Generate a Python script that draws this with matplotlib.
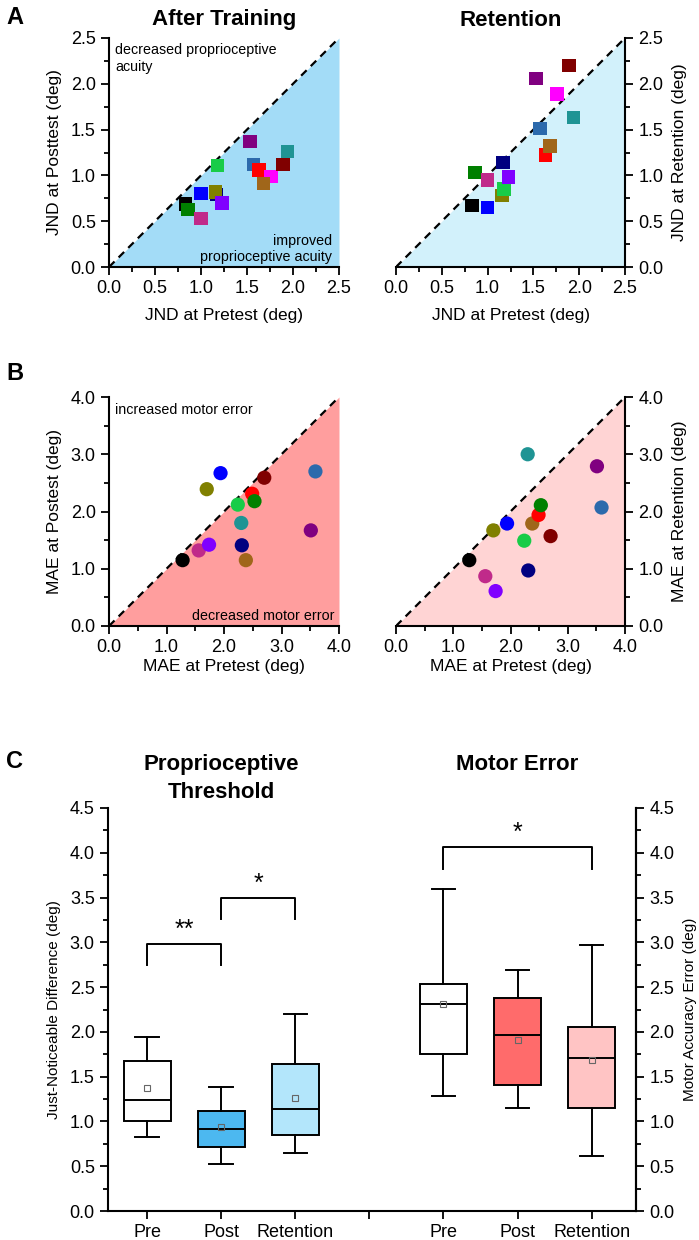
import matplotlib
matplotlib.use("Agg")
import matplotlib.pyplot as plt
from matplotlib.ticker import MultipleLocator
import numpy as np

plt.rcParams["font.family"] = ["Liberation Sans", "DejaVu Sans"]

# ---- panel A: JND (one square per subject) ----
jnd_colors = ["#000000", "#007f00", "#0000ff", "#000080", "#808000", "#c02a8a",
              "#18cc48", "#8000ff", "#800080", "#2c6aac", "#ff0000", "#ff00ff",
              "#a0661a", "#800000", "#1f9494"]
jnd_pre = [0.83, 0.86, 1.00, 1.17, 1.16, 1.00, 1.18, 1.23, 1.53, 1.57, 1.63, 1.76, 1.68, 1.89, 1.94]
jnd_post = [0.69, 0.63, 0.80, 0.79, 0.82, 0.53, 1.11, 0.70, 1.37, 1.12, 1.06, 0.99, 0.91, 1.12, 1.26]
jnd_ret = [0.67, 1.03, 0.65, 1.14, 0.78, 0.95, 0.85, 0.98, 2.06, 1.51, 1.22, 1.89, 1.32, 2.20, 1.63]

# ---- panel B: MAE (one circle per subject) ----
mae_colors = ["#000000", "#c02a8a", "#8000ff", "#808000", "#0000ff", "#18cc48",
              "#1f9494", "#000080", "#a0661a", "#ff0000", "#008000", "#800000",
              "#800080", "#2c6aac"]
mae_pre = [1.28, 1.56, 1.74, 1.70, 1.94, 2.24, 2.30, 2.31, 2.38, 2.49, 2.53, 2.70, 3.51, 3.59]
mae_post = [1.15, 1.32, 1.42, 2.39, 2.67, 2.12, 1.80, 1.41, 1.15, 2.31, 2.18, 2.59, 1.67, 2.70]
mae_ret = [1.15, 0.87, 0.61, 1.67, 1.79, 1.49, 3.00, 0.97, 1.79, 1.94, 2.11, 1.57, 2.79, 2.07]

# ---- panel C: box statistics ----
box_labels = ["Pre", "Post", "Retention", "", "Pre", "Post", "Retention"]
box_pos = [1, 2, 3, 5, 6, 7]
whislo = [0.83, 0.53, 0.65, 1.28, 1.15, 0.61]
q1 = [1.00, 0.71, 0.85, 1.75, 1.41, 1.15]
med = [1.24, 0.92, 1.14, 2.31, 1.96, 1.71]
q3 = [1.68, 1.12, 1.64, 2.53, 2.38, 2.06]
whishi = [1.94, 1.39, 2.20, 3.59, 2.69, 2.97]
means = [1.37, 0.94, 1.26, 2.31, 1.91, 1.69]
box_colors = ["white", "#4cb8f0", "#b3e6fb", "white", "#ff6b6b", "#ffc4c4"]

W, H = 699, 1240
TICK = 13
LAB = 12.5
NOTE = 10.3
fig = plt.figure(figsize=(W / 100, H / 100), dpi=100)


def px_axes(left, top, right, bottom):
    return fig.add_axes([left / W, 1 - bottom / H, (right - left) / W, (bottom - top) / H])


def style(ax, side):
    for s in ["top", "left", "right"]:
        ax.spines[s].set_visible(False)
    ax.spines[side].set_visible(True)
    for s in ["bottom", side]:
        ax.spines[s].set_linewidth(1.5)
    ax.tick_params(which="both", direction="out", width=1.3, labelsize=TICK)
    ax.tick_params(which="major", length=6)
    ax.tick_params(which="minor", length=3.5)
    if side == "right":
        ax.yaxis.tick_right()
        ax.yaxis.set_label_position("right")


def scatter_panel(ax, x, y, colors, lim, fill, marker, size, side, maj, fmt):
    ax.fill_between([0, lim], [0, 0], [0, lim], color=fill, lw=0, zorder=0)
    ax.plot([0, lim], [0, lim], ls=(0, (3.5, 2.6)), color="black", lw=1.6, zorder=1)
    ax.scatter(x, y, c=colors, marker=marker, s=size, zorder=3, linewidths=0)
    ax.set_xlim(0, lim)
    ax.set_ylim(0, lim)
    ax.xaxis.set_major_locator(MultipleLocator(maj))
    ax.xaxis.set_minor_locator(MultipleLocator(maj / 2))
    ax.yaxis.set_major_locator(MultipleLocator(maj))
    ax.yaxis.set_minor_locator(MultipleLocator(maj / 2))
    ax.xaxis.set_major_formatter(fmt)
    ax.yaxis.set_major_formatter(fmt)
    style(ax, side)


fmt1 = matplotlib.ticker.FormatStrFormatter("%.1f")

# A
axA1 = px_axes(109, 38, 339, 267)
scatter_panel(axA1, jnd_pre, jnd_post, jnd_colors, 2.5, "#a3dcf7", "s", 95, "left", 0.5, fmt1)
axA1.set_xlabel("JND at Pretest (deg)", fontsize=LAB, labelpad=8)
axA1.set_ylabel("JND at Posttest (deg)", fontsize=LAB, labelpad=6)
axA1.set_title("After Training", fontsize=16, fontweight="bold", pad=9)
axA1.text(0.07, 2.44, "decreased proprioceptive\nacuity", fontsize=NOTE, va="top", ha="left")
axA1.text(2.42, 0.03, "improved\nproprioceptive acuity", fontsize=NOTE, va="bottom", ha="right",
          multialignment="right")

axA2 = px_axes(396, 38, 625, 267)
scatter_panel(axA2, jnd_pre, jnd_ret, jnd_colors, 2.5, "#d2f1fb", "s", 95, "right", 0.5, fmt1)
axA2.set_xlabel("JND at Pretest (deg)", fontsize=LAB, labelpad=8)
axA2.set_ylabel("JND at Retention (deg)", fontsize=LAB, labelpad=6)
axA2.set_title("Retention", fontsize=16, fontweight="bold", pad=9)

# B
axB1 = px_axes(109, 397, 339, 626)
scatter_panel(axB1, mae_pre, mae_post, mae_colors, 4.0, "#ff9e9e", "o", 105, "left", 1.0, fmt1)
axB1.set_xlabel("MAE at Pretest (deg)", fontsize=LAB, labelpad=2)
axB1.set_ylabel("MAE at Postest (deg)", fontsize=LAB, labelpad=6)
axB1.text(0.1, 3.9, "increased motor error", fontsize=NOTE, va="top", ha="left")
axB1.text(3.92, 0.06, "decreased motor error", fontsize=NOTE, va="bottom", ha="right")

axB2 = px_axes(396, 397, 625, 626)
scatter_panel(axB2, mae_pre, mae_ret, mae_colors, 4.0, "#ffd4d4", "o", 105, "right", 1.0, fmt1)
axB2.set_xlabel("MAE at Pretest (deg)", fontsize=LAB, labelpad=2)
axB2.set_ylabel("MAE at Retention (deg)", fontsize=LAB, labelpad=6)

# C
axC = px_axes(108, 808, 636, 1211)
stats = []
for i in range(len(box_pos)):
    stats.append(dict(whislo=whislo[i], q1=q1[i], med=med[i], q3=q3[i],
                      whishi=whishi[i], mean=means[i], fliers=[]))
bp = axC.bxp(stats, positions=box_pos, widths=0.64, patch_artist=True, showmeans=True,
             boxprops=dict(lw=1.4, edgecolor="black"),
             medianprops=dict(color="black", lw=1.4),
             whiskerprops=dict(lw=1.4), capprops=dict(lw=1.4), capwidths=0.32,
             meanprops=dict(marker="s", markersize=4, markerfacecolor="none",
                            markeredgecolor="#666666", markeredgewidth=0.8))
for patch, c in zip(bp["boxes"], box_colors):
    patch.set_facecolor(c)
axC.set_xlim(0.47, 7.6)
axC.set_ylim(0, 4.5)
axC.set_xticks(range(1, 8))
axC.set_xticklabels(box_labels, fontsize=TICK)
axC.yaxis.set_major_locator(MultipleLocator(0.5))
axC.yaxis.set_minor_locator(MultipleLocator(0.25))
axC.yaxis.set_major_formatter(fmt1)
style(axC, "left")
axC.spines["right"].set_visible(True)
axC.spines["right"].set_linewidth(1.5)
axC.set_ylabel("Just-Noticeable Difference (deg)", fontsize=11, labelpad=6)

axC2 = axC.twinx()
axC2.set_ylim(0, 4.5)
axC2.yaxis.set_major_locator(MultipleLocator(0.5))
axC2.yaxis.set_minor_locator(MultipleLocator(0.25))
axC2.yaxis.set_major_formatter(fmt1)
style(axC2, "right")
axC2.spines["bottom"].set_visible(False)
axC2.set_ylabel("Motor Accuracy Error (deg)", fontsize=11, labelpad=6)


def bracket(x1, x2, top, leg, label):
    axC.plot([x1, x1, x2, x2], [leg, top, top, leg], color="black", lw=1.4, clip_on=False)
    axC.text((x1 + x2) / 2, top + 0.03, label, ha="center", va="bottom", fontsize=18)


bracket(1, 2, 2.98, 2.75, "**")
bracket(2, 3, 3.49, 3.26, "*")
bracket(5, 7, 4.06, 3.82, "*")

axC.text(2, 5.1, "Proprioceptive\nThreshold", ha="center", va="top", fontsize=16,
         fontweight="bold", linespacing=1.4)
axC.text(6, 5.1, "Motor Error", ha="center", va="top", fontsize=16, fontweight="bold")

# panel letters
fig.text(6 / W, 1 - 18 / H, "A", fontsize=17, fontweight="bold", va="center")
fig.text(6 / W, 1 - 373 / H, "B", fontsize=17, fontweight="bold", va="center")
fig.text(6 / W, 1 - 762 / H, "C", fontsize=17, fontweight="bold", va="center")

fig.savefig("out.png", dpi=100)
